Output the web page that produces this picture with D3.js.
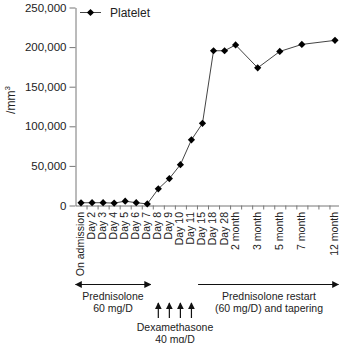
<!DOCTYPE html>
<html>
<head>
<meta charset="utf-8">
<script src="https://cdn.jsdelivr.net/npm/d3@7"></script>
<style>
  html, body { margin: 0; padding: 0; background: #fff; }
  svg { display: block; font-family: "Liberation Sans", Arial, sans-serif; }
</style>
</head>
<body>
<svg id="chart"></svg>
<script>
// data
const labels = ['On admission', 'Day 2', 'Day 3', 'Day 4', 'Day 5', 'Day 6', 'Day 7',
  'Day 8', 'Day 9', 'Day 10', 'Day 11', 'Day 15', 'Day 18', 'Day 28',
  '2 month', '3 month', '5 month', '7 month', '12 month'];
const slots = [0, 1, 2, 3, 4, 5, 6, 7, 8, 9, 10, 11, 12, 13, 14, 16, 18, 20, 23];
const platelet = [3400, 3500, 3500, 3000, 5500, 3500, 2000, 21000, 34000, 51600,
  82900, 103700, 195400, 195400, 202700, 173800, 194500, 203400, 208500];
const yTicks = [0, 50000, 100000, 150000, 200000, 250000];
const dexaDays = ['Day 8', 'Day 9', 'Day 10', 'Day 11'];

const width = 339, height = 343;
const svg = d3.select('#chart').attr('width', width).attr('height', height);

const x = d3.scaleLinear().domain([-0.5, 23.5]).range([75.5, 340.5]);
const y = d3.scaleLinear().domain([0, 250000]).range([205.5, 7.5]);
const slotOf = (lab) => slots[labels.indexOf(lab)];

const axisColor = '#777';

// y axis
const yAxis = svg.append('g')
  .attr('transform', 'translate(75.5,0)')
  .call(d3.axisLeft(y).tickValues(yTicks).tickFormat(d3.format(',')).tickSize(6).tickSizeOuter(0));
yAxis.select('.domain').attr('stroke', axisColor);
yAxis.selectAll('.tick line').attr('stroke', axisColor);
yAxis.selectAll('.tick text').attr('font-size', 11.5).attr('fill', '#222')
  .attr('font-family', '"Liberation Sans", Arial, sans-serif').attr('x', -9);

// x axis: ticks sit between the categories
const xAxis = svg.append('g')
  .attr('transform', 'translate(0,205.5)')
  .call(d3.axisBottom(x).tickValues(d3.range(0.5, 23, 1)).tickFormat('').tickSize(4).tickSizeOuter(0));
xAxis.select('.domain').attr('stroke', axisColor);
xAxis.selectAll('.tick line').attr('stroke', axisColor);

// rotated category labels
svg.append('g').selectAll('text')
  .data(labels)
  .join('text')
  .attr('transform', (d, i) => `translate(${x(slots[i])},212) rotate(-90)`)
  .attr('text-anchor', 'end')
  .attr('dy', '0.28em')
  .attr('font-size', 10.5)
  .attr('fill', '#222')
  .text(d => d);

// y label
svg.append('text')
  .attr('transform', 'translate(15,100) rotate(-90)')
  .attr('text-anchor', 'middle')
  .attr('font-size', 12)
  .attr('fill', '#222')
  .text('/mm')
  .append('tspan')
  .attr('font-size', 8)
  .attr('dy', -5)
  .text('3');

// line and markers
const pts = platelet.map((v, i) => ({ s: slots[i], v }));
svg.append('path')
  .datum(pts)
  .attr('fill', 'none')
  .attr('stroke', '#444')
  .attr('stroke-width', 1)
  .attr('d', d3.line().x(d => x(d.s)).y(d => y(d.v)));

const marker = d3.symbol().type(d3.symbolSquare).size(26);
svg.append('g').selectAll('path')
  .data(pts)
  .join('path')
  .attr('transform', d => `translate(${x(d.s)},${y(d.v)}) rotate(45)`)
  .attr('d', marker)
  .attr('fill', '#000');

// legend
const lg = svg.append('g').attr('transform', 'translate(80,12.5)');
lg.append('line').attr('x1', 0).attr('x2', 21).attr('stroke', '#444');
lg.append('path').attr('transform', 'translate(10.5,0) rotate(45)').attr('d', marker).attr('fill', '#000');
lg.append('text').attr('x', 30).attr('dy', '0.35em').attr('font-size', 12).attr('fill', '#222').text('Platelet');

// treatment annotations
svg.append('defs').call(defs => {
  defs.append('marker').attr('id', 'head')
    .attr('viewBox', '0 0 10 10').attr('refX', 9).attr('refY', 5)
    .attr('markerWidth', 7).attr('markerHeight', 7).attr('markerUnits', 'userSpaceOnUse')
    .attr('orient', 'auto-start-reverse')
    .append('path').attr('d', 'M0,0L10,5L0,10Z').attr('fill', '#111');
});

const arrowY = 284.5;
svg.append('line')
  .attr('x1', x(-0.5)).attr('x2', x(6.3)).attr('y1', arrowY).attr('y2', arrowY)
  .attr('stroke', '#111').attr('stroke-width', 1.2)
  .attr('marker-start', 'url(#head)').attr('marker-end', 'url(#head)');
svg.append('line')
  .attr('x1', x(10.6)).attr('x2', 338.5).attr('y1', arrowY).attr('y2', arrowY)
  .attr('stroke', '#111').attr('stroke-width', 1.2)
  .attr('marker-end', 'url(#head)');

svg.append('g').selectAll('line')
  .data(dexaDays)
  .join('line')
  .attr('x1', d => x(slotOf(d))).attr('x2', d => x(slotOf(d)))
  .attr('y1', 318).attr('y2', 303)
  .attr('stroke', '#111').attr('stroke-width', 1.2)
  .attr('marker-end', 'url(#head)');

const notes = [
  { cx: 113, lines: ['Prednisolone', '60 mg/D'], top: 300 },
  { cx: 269, lines: ['Prednisolone restart', '(60 mg/D) and tapering'], top: 300 },
  { cx: 175, lines: ['Dexamethasone', '40 mg/D'], top: 331 }
];
notes.forEach(n => {
  n.lines.forEach((t, i) => {
    svg.append('text')
      .attr('x', n.cx).attr('y', n.top + i * 11.5)
      .attr('text-anchor', 'middle')
      .attr('font-size', 10.5)
      .attr('fill', '#222')
      .text(t);
  });
});
</script>
</body>
</html>
